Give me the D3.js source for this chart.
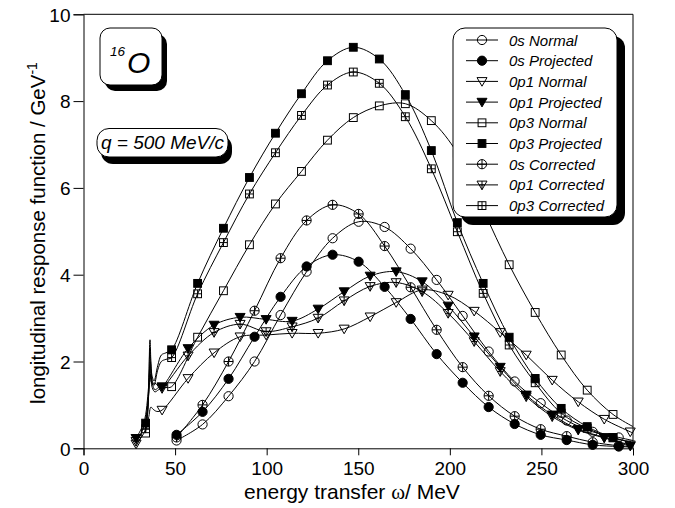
<!DOCTYPE html>
<html><head><meta charset="utf-8">
<script src="https://cdn.jsdelivr.net/npm/d3@7"></script>
<style>body{margin:0;background:#fff}svg{display:block}text{font-family:"Liberation Sans",Arial,sans-serif;fill:#000}</style>
</head><body><svg id="c" width="675" height="508"></svg>
<script>
// ---- data ----
const xTicks = [0, 50, 100, 150, 200, 250, 300];
const yTicks = [0, 2, 4, 6, 8, 10];
const seriesNames = ["0s Normal","0s Projected","0p1 Normal","0p1 Projected","0p3 Normal","0p3 Projected","0s Corrected","0p1 Corrected","0p3 Corrected"];

const x0s  = [50.8,65,79.2,93.4,107.6,121.8,136,150.2,164.4,178.6,192.8,207,221.2,235.4,249.6,263.8,278,292.2];
const x0p1 = [28.7,42.9,57.1,71.3,85.5,99.7,113.9,128.1,142.3,156.5,170.7,184.9,199.1,213.3,227.5,241.7,255.9,270.1,284.3,298.5];
const x0p3 = [33.9,48.1,62.3,76.4,90.6,104.8,119,133.2,147.3,161.5,175.7,189.9,204.1,218.2,232.4,246.6,260.8,275,289.1];

const y0sNormal     = [0.18,0.55,1.2,2.0,3.07,4.07,4.84,5.22,5.10,4.60,3.88,3.05,2.23,1.54,1.04,0.64,0.38,0.25];
const y0sProjected  = [0.31,0.84,1.6,2.57,3.49,4.19,4.46,4.30,3.72,2.98,2.17,1.51,0.95,0.56,0.31,0.19,0.08,0.04];
const y0sCorrected  = [0.25,1.0,2.0,3.17,4.38,5.25,5.61,5.40,4.66,3.71,2.73,1.87,1.21,0.74,0.44,0.28,0.14,0.06];
const y0p1Normal    = [0.10,0.88,1.61,2.2,2.57,2.61,2.65,2.65,2.75,3.03,3.36,3.65,3.53,3.16,2.67,2.15,1.57,1.07,0.67,0.38];
const y0p1Projected = [0.23,1.42,2.30,2.84,3.02,2.97,2.93,3.21,3.61,3.97,4.07,3.84,3.28,2.57,1.87,1.23,0.77,0.44,0.25,0.05];
const y0p1Corrected = [0.16,1.38,2.13,2.67,2.86,2.69,2.80,3.00,3.40,3.73,3.82,3.61,3.11,2.46,1.77,1.19,0.73,0.42,0.24,0.08];
const y0p3Normal    = [0.35,1.42,2.56,3.63,4.69,5.63,6.38,7.10,7.62,7.89,7.94,7.55,6.80,5.50,4.23,3.13,2.15,1.34,0.78];
const y0p3Projected = [0.58,2.27,3.80,5.07,6.24,7.26,8.17,8.93,9.24,8.97,8.15,6.86,5.20,3.80,2.56,1.61,0.92,0.50,0.25];
const y0p3Corrected = [0.45,2.09,3.56,4.74,5.86,6.81,7.67,8.37,8.67,8.41,7.64,6.44,4.99,3.57,2.38,1.51,0.81,0.46,0.24];

// extra curve points without symbols (threshold structure and end at 300 MeV)
const extra0sNormal     = [[300,0.18]];
const extra0sProjected  = [[300,0.03]];
const extra0sCorrected  = [[300,0.04]];
const extra0p1Normal    = [[33,0.35],[35.5,0.7],[36.8,0.95],[38,0.9],[40,0.85],[300,0.35]];
const extra0p1Projected = [[33,0.6],[35.5,1.4],[36.5,2.0],[37.5,1.5],[39,1.35],[41,1.4],[300,0.04]];
const extra0p1Corrected = [[33,0.5],[35.5,1.2],[36.5,1.7],[37.5,1.4],[39,1.3],[41,1.35],[300,0.07]];
const extra0p3Normal    = [[35,0.8],[36.3,1.9],[37.3,1.5],[39,1.5],[42,1.4],[45,1.4],[300,0.5]];
const extra0p3Projected = [[35.2,1.0],[36.3,2.5],[37.3,1.7],[38.5,1.55],[40.5,1.9],[42.5,2.15],[45,2.2],[300,0.13]];
const extra0p3Corrected = [[35.2,0.9],[36.3,2.3],[37.3,1.6],[38.5,1.45],[40.5,1.8],[42.5,2.0],[45,2.05],[300,0.13]];

const series = [
  {name:seriesNames[0], x:x0s,  y:y0sNormal,     extra:extra0sNormal,     shape:"circle", fill:"open"},
  {name:seriesNames[1], x:x0s,  y:y0sProjected,  extra:extra0sProjected,  shape:"circle", fill:"filled"},
  {name:seriesNames[2], x:x0p1, y:y0p1Normal,    extra:extra0p1Normal,    shape:"tri",    fill:"open"},
  {name:seriesNames[3], x:x0p1, y:y0p1Projected, extra:extra0p1Projected, shape:"tri",    fill:"filled"},
  {name:seriesNames[4], x:x0p3, y:y0p3Normal,    extra:extra0p3Normal,    shape:"square", fill:"open"},
  {name:seriesNames[5], x:x0p3, y:y0p3Projected, extra:extra0p3Projected, shape:"square", fill:"filled"},
  {name:seriesNames[6], x:x0s,  y:y0sCorrected,  extra:extra0sCorrected,  shape:"circle", fill:"cross"},
  {name:seriesNames[7], x:x0p1, y:y0p1Corrected, extra:extra0p1Corrected, shape:"tri",    fill:"cross"},
  {name:seriesNames[8], x:x0p3, y:y0p3Corrected, extra:extra0p3Corrected, shape:"square", fill:"cross"}
];

// ---- chart ----
const svg = d3.select("#c");
const L = 83.5, R = 633, T = 14.3, B = 448.3;
const x = d3.scaleLinear().domain([0,300]).range([L,R]);
const y = d3.scaleLinear().domain([0,10]).range([B,T]);

svg.append("defs").append("clipPath").attr("id","clip")
  .append("rect").attr("x",L).attr("y",T).attr("width",R-L).attr("height",B-T);

// axes
const gx = svg.append("g").attr("transform",`translate(0,${B})`);
gx.call(d3.axisBottom(x).tickValues(d3.range(0,301,10)).tickSize(4).tickFormat(""));
gx.call(d3.axisBottom(x).tickValues(xTicks).tickSize(7).tickFormat(d3.format("d")));
gx.selectAll("text").attr("font-size",19).attr("dy",null).attr("y",27);
const gy = svg.append("g").attr("transform",`translate(${L},0)`);
gy.call(d3.axisLeft(y).tickValues(d3.range(0,11,1)).tickSize(5).tickFormat(""));
gy.call(d3.axisLeft(y).tickValues(yTicks).tickSize(10).tickFormat(d3.format("d")));
gy.selectAll("text").attr("font-size",19).attr("x",-13).attr("dy","0.36em");
svg.selectAll(".domain").attr("stroke","#000");
svg.selectAll(".tick line").attr("stroke","#000");
svg.append("path").attr("d",`M${L},${T}H${R}V${B}`).attr("fill","none").attr("stroke","#000");

// axis titles
svg.append("text").attr("x",352).attr("y",499).attr("text-anchor","middle").attr("font-size",21)
  .html('energy transfer <tspan font-family="Liberation Serif, Times New Roman, serif">ω</tspan>/ MeV');
const yl = svg.append("text").attr("transform","translate(45,233) rotate(-90)").attr("text-anchor","middle").attr("font-size",20.5);
yl.append("tspan").text("longitudinal response function  / GeV");
yl.append("tspan").attr("font-size",14).attr("dy",-8).text("-1");

// marker drawing
function marker(g, shape, fill, cx, cy){
  const col = fill==="filled" ? "#000" : "none";
  if(shape==="circle"){
    const r=4.6;
    g.append("circle").attr("cx",cx).attr("cy",cy).attr("r",r).attr("fill",col).attr("stroke","#000").attr("stroke-width",1);
    if(fill==="cross") g.append("path").attr("d",`M${cx-r},${cy}H${cx+r}M${cx},${cy-r}V${cy+r}`).attr("stroke","#000").attr("fill","none");
  } else if(shape==="square"){
    const h=3.9;
    g.append("rect").attr("x",cx-h).attr("y",cy-h).attr("width",2*h).attr("height",2*h).attr("fill",col).attr("stroke","#000").attr("stroke-width",1);
    if(fill==="cross") g.append("path").attr("d",`M${cx-h},${cy}H${cx+h}M${cx},${cy-h}V${cy+h}`).attr("stroke","#000").attr("fill","none");
  } else {
    const w=5, t=3.8, b=4.8;
    g.append("path").attr("d",`M${cx-w},${cy-t}L${cx+w},${cy-t}L${cx},${cy+b}Z`).attr("fill",col).attr("stroke","#000").attr("stroke-width",1).attr("stroke-linejoin","miter");
    if(fill==="cross"){
      const hw = w*b/(t+b);
      g.append("path").attr("d",`M${cx-hw},${cy}H${cx+hw}M${cx},${cy-t}V${cy+b}`).attr("stroke","#000").attr("fill","none");
    }
  }
}

const line = d3.line().x(d=>x(d[0])).y(d=>y(d[1])).curve(d3.curveCatmullRom.alpha(0.5));
const plot = svg.append("g").attr("clip-path","url(#clip)");
series.forEach(s=>{
  const pts = s.x.map((v,i)=>[v,s.y[i]]).concat(s.extra).sort((a,b)=>a[0]-b[0]);
  plot.append("path").attr("d",line(pts)).attr("fill","none").attr("stroke","#000").attr("stroke-width",1);
});
series.forEach(s=>{
  const g = svg.append("g");
  s.x.forEach((v,i)=>marker(g,s.shape,s.fill,x(v),y(s.y[i])));
});

// rounded boxes with shadow
function box(x0,y0,w,h,r,dx,dy){
  svg.append("rect").attr("x",x0+dx).attr("y",y0+dy).attr("width",w).attr("height",h).attr("rx",r).attr("fill","#000");
  svg.append("rect").attr("x",x0).attr("y",y0).attr("width",w).attr("height",h).attr("rx",r).attr("fill","#fff").attr("stroke","#000").attr("stroke-width",1);
}
box(100,28,62,57,10,5,6);
svg.append("text").attr("x",110).attr("y",56).attr("font-size",13.5).attr("font-style","italic").text("16");
svg.append("text").attr("x",127).attr("y",73).attr("font-size",30).attr("font-style","italic").text("O");
box(97,128.5,131,28.5,12,4,7);
svg.append("text").attr("x",101).attr("y",148.5).attr("font-size",19).attr("font-style","italic").text("q = 500 MeV/c");

// legend
box(453,28,164,189,12,8,8);
series.forEach((s,i)=>{
  const cy = 40 + i*20.7;
  const g = svg.append("g");
  g.append("path").attr("d",`M466,${cy}H498`).attr("stroke","#000");
  marker(g,s.shape,s.fill,482,cy);
  g.append("text").attr("x",509).attr("y",cy+5.5).attr("font-size",15).attr("font-style","italic").text(s.name);
});
</script></body></html>
